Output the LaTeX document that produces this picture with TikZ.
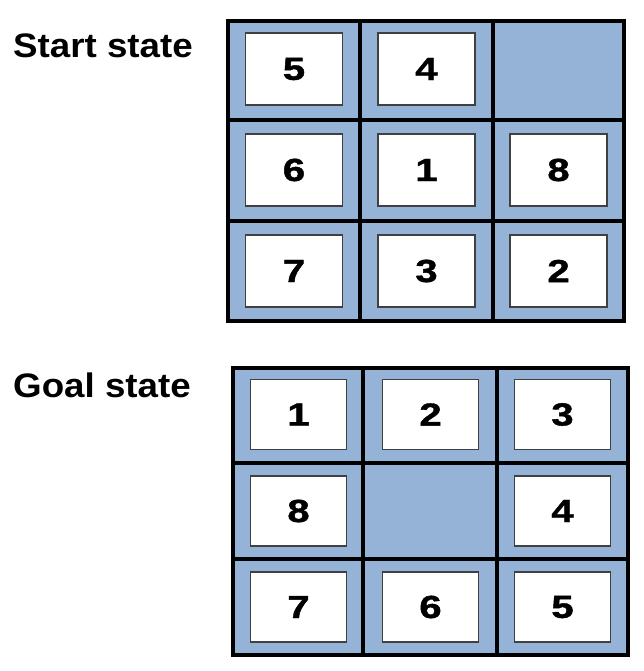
\documentclass[tikz,border=0pt]{standalone}
\usepackage{fontspec}
\setmainfont{Liberation Sans}
\newfontfamily\digitfont{Liberation Sans Bold}[FakeBold=1.2]
\definecolor{cellblue}{HTML}{95B3D7}
\newcommand{\tiledigit}[1]{\scalebox{1.25}[1]{#1}}
\begin{document}
\begin{tikzpicture}[x=1pt,y=-1pt,
  gridline/.style={line width=3.5pt, line cap=rect},
  tile/.style={draw=black!75, line width=1.3pt, fill=white, inner sep=0pt,
    minimum width=97pt, minimum height=72pt,
    font=\digitfont\fontsize{32}{32}\selectfont},
  label/.style={anchor=base west, inner sep=0pt,
    font=\bfseries\fontsize{34}{34}\selectfont}]
\useasboundingbox (0,0) rectangle (643,671);
% labels
\node[label] (startlbl) at (13,58) {\scalebox{1.08}[1]{Start state}};
\node[label] (goallbl) at (13,397) {\scalebox{1.08}[1]{Goal state}};
% start grid
\fill[cellblue] (228,21) rectangle (624,321);
\draw[gridline] (228,21) rectangle (624,321);
\draw[gridline] (360,21) -- (360,321) (493,21) -- (493,321);
\draw[gridline] (228,120) -- (624,120) (228,221) -- (624,221);
\node[tile] (s11) at (294,69) {\tiledigit{5}};
\node[tile] (s12) at (426.5,69) {\tiledigit{4}};
\node[tile] (s21) at (294,170) {\tiledigit{6}};
\node[tile] (s22) at (426.5,170) {\tiledigit{1}};
\node[tile] (s23) at (558.5,170) {\tiledigit{8}};
\node[tile] (s31) at (294,271) {\tiledigit{7}};
\node[tile] (s32) at (426.5,271) {\tiledigit{3}};
\node[tile] (s33) at (558.5,271) {\tiledigit{2}};
% goal grid
\fill[cellblue] (233,368) rectangle (628,655);
\draw[gridline] (233,368) rectangle (628,655);
\draw[gridline] (363,368) -- (363,655) (497,368) -- (497,655);
\draw[gridline] (233,463) -- (628,463) (233,559) -- (628,559);
\begin{scope}[tile/.append style={minimum width=96pt, minimum height=70pt}]
\node[tile] (g11) at (298.5,414.5) {\tiledigit{1}};
\node[tile] (g12) at (430.5,414.5) {\tiledigit{2}};
\node[tile] (g13) at (562.5,414.5) {\tiledigit{3}};
\node[tile] (g21) at (298.5,511) {\tiledigit{8}};
\node[tile] (g23) at (562.5,511) {\tiledigit{4}};
\node[tile] (g31) at (298.5,607) {\tiledigit{7}};
\node[tile] (g32) at (430.5,607) {\tiledigit{6}};
\node[tile] (g33) at (562.5,607) {\tiledigit{5}};
\end{scope}
\end{tikzpicture}
\end{document}
